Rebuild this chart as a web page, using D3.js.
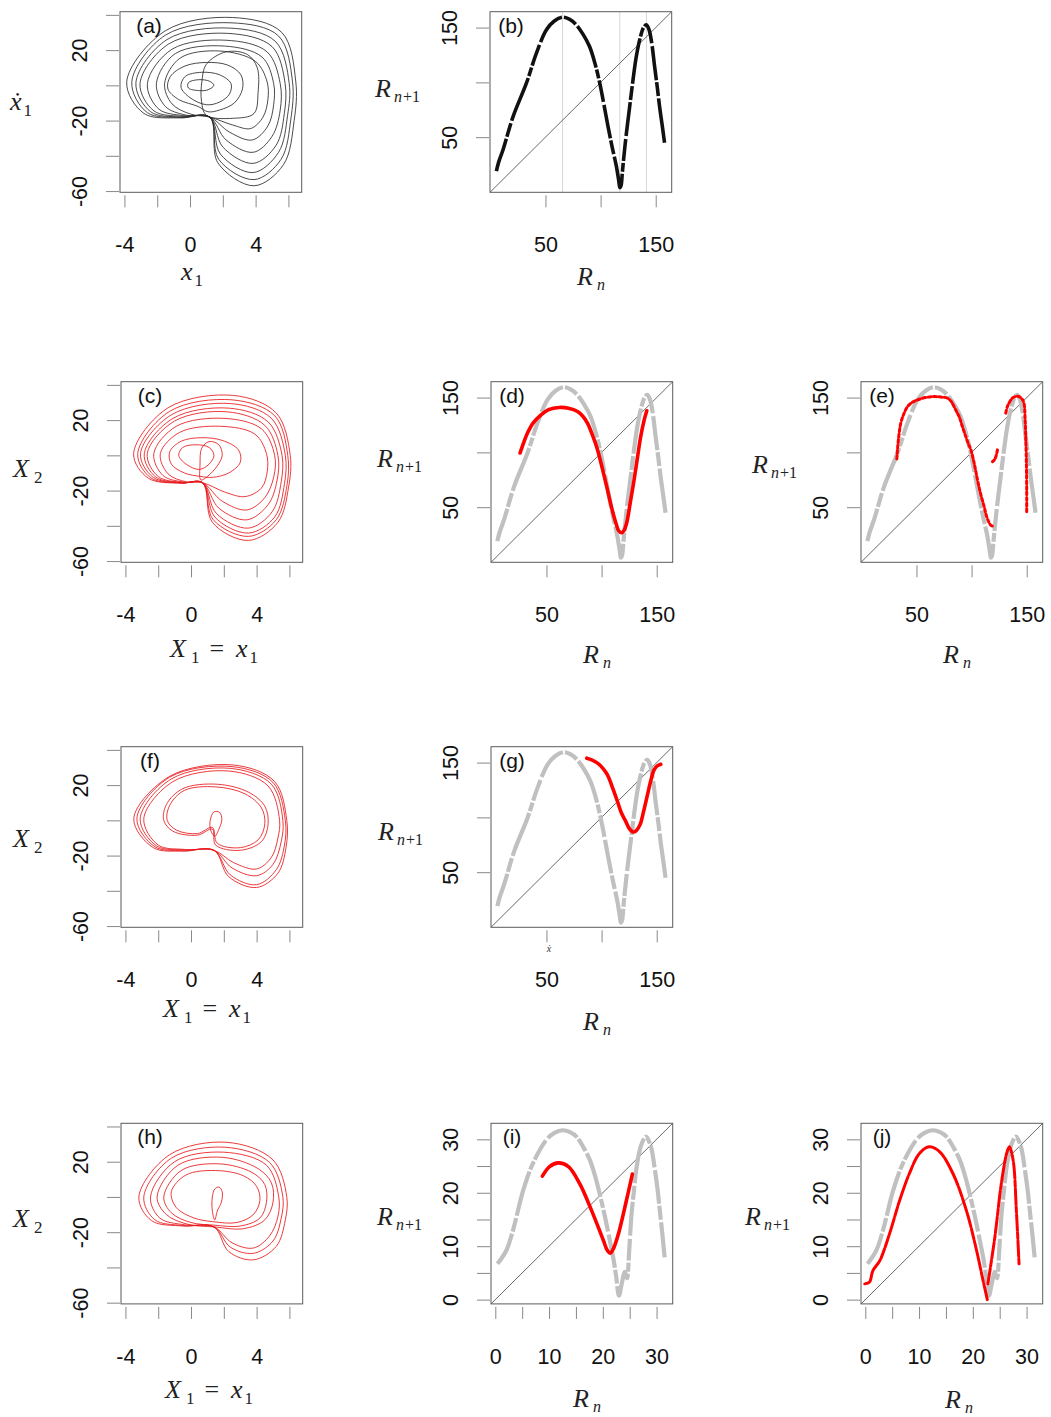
<!DOCTYPE html>
<html><head><meta charset="utf-8">
<script src="https://cdn.jsdelivr.net/npm/d3@7"></script>
<style>
body{margin:0;background:#fff;}
svg{display:block;background:#fff;}
</style></head><body>
<svg id="chart" width="1051" height="1417"></svg>
<script>
// ---------------- DATA ----------------
const phaseXTicks = [-4, -2, 0, 2, 4, 6];
const phaseXLabels = [-4, 0, 4];
const phaseYTicks = [-60, -40, -20, 0, 20, 40];
const phaseYLabels = [-60, -20, 20];
const mapTicks = [50, 100, 150];
const mapLabels = [50, 150];
const smallTicks = [0, 5, 10, 15, 20, 25, 30];
const smallLabels = [0, 10, 20, 30];
const panelLetters = ['(a)','(b)','(c)','(d)','(e)','(f)','(g)','(h)','(i)','(j)'];

// phase-portrait loops (x1, x1dot / X2)
const loopsA = [
 [[1.2,-18],[1.7,-44],[3.9,-57],[5.7,-45],[6.35,-20],[6.45,2],[5.6,30],[2.6,38.5],[-1.5,31],[-3.86,2],[-2.8,-16],[-0.6,-18.5]],
 [[1.2,-18],[1.75,-42],[3.9,-53.5],[5.55,-42],[6.15,-19],[6.25,2],[5.4,28],[2.5,35.5],[-1.5,28.5],[-3.55,2],[-2.6,-15.5],[-0.6,-18.2]],
 [[1.2,-18],[1.85,-39],[3.85,-49.5],[5.4,-38],[5.95,-17],[6.05,1],[5.2,25],[2.4,32.5],[-1.4,26],[-3.3,1.5],[-2.4,-15],[-0.6,-18]],
 [[1.2,-18],[2.0,-35],[3.85,-44.3],[5.25,-34],[5.75,-16],[5.8,1],[5.0,22],[2.3,29.5],[-1.3,23.5],[-3.05,1],[-2.2,-14.5],[-0.5,-17.6]],
 [[1.2,-18],[2.2,-31],[3.85,-38],[5.0,-29],[5.5,-14],[5.5,1],[4.7,19],[2.2,25.6],[-1.1,20.5],[-2.6,1],[-1.9,-13.5],[-0.4,-17.2]],
 [[1.2,-18],[2.4,-26.5],[3.8,-31],[4.75,-23],[5.1,-11],[5.1,1],[4.4,16],[2.1,22.3],[-0.9,18],[-2.05,1],[-1.5,-12],[-0.3,-16.8]],
 [[1.2,-18],[2.6,-22.5],[3.7,-24.5],[4.45,-18],[4.75,-8],[4.7,2],[4.0,13.5],[1.8,19.5],[-0.6,15.5],[-1.55,1],[-1.1,-10.5],[0.0,-16.2]],
 [[1.0,-17],[0.7,-9],[0.72,2],[1.0,12],[2.2,19],[3.5,17.5],[4.1,10],[4.15,-4],[3.9,-16],[2.6,-18.7]],
 [[1.1,-15],[0.5,-12],[-0.7,-8],[-1.35,-2],[-1.2,5],[-0.3,11],[1.0,13],[2.3,11.5],[3.1,6],[3.2,-2],[2.7,-10],[1.8,-14]],
 [[1.0,-11],[0.0,-7],[-0.55,-1],[-0.3,5],[0.7,7.4],[1.8,6],[2.5,1],[2.4,-5],[1.8,-9.5]],
 [[0.6,-3],[-0.1,-1.5],[-0.1,1.5],[0.5,3.2],[1.2,2.3],[1.45,0],[1.1,-2.5]]
];
const loopsC = [
 [[0.7,-15.5],[1.3,-38],[3.5,-48.3],[5.3,-38],[5.95,-18],[6.05,0],[5.2,24],[2.6,34],[-1.4,27],[-3.5,1],[-2.6,-13],[-0.6,-15.8]],
 [[0.7,-15.5],[1.35,-36.5],[3.5,-46],[5.2,-36.5],[5.85,-17],[5.9,0],[5.1,22.5],[2.5,31.5],[-1.3,25],[-3.25,1],[-2.45,-12.8],[-0.6,-15.7]],
 [[0.7,-15.5],[1.45,-35],[3.5,-44.1],[5.1,-35],[5.7,-16],[5.75,0],[4.9,21],[2.4,29.4],[-1.2,23],[-3.08,1],[-2.3,-12.5],[-0.6,-15.6]],
 [[0.7,-15.5],[1.55,-33],[3.5,-41.3],[4.95,-32],[5.5,-15],[5.55,0],[4.7,19],[2.3,26.8],[-1.1,21],[-2.85,1],[-2.15,-12.3],[-0.5,-15.5]],
 [[0.7,-15.5],[1.7,-30],[3.4,-36.6],[4.7,-28],[5.25,-14],[5.3,0],[4.5,17],[2.2,24.7],[-1.0,19.5],[-2.67,1],[-2.0,-12],[-0.5,-15.4]],
 [[0.7,-15.5],[1.9,-26],[3.4,-31],[4.5,-24],[5.05,-12],[5.1,0],[4.3,15],[2.0,21],[-0.9,16.5],[-2.27,1],[-1.7,-11.5],[-0.4,-15.2]],
 [[0.7,-15.5],[2.1,-21],[3.3,-23.4],[4.3,-18.5],[4.65,-9],[4.6,1],[3.9,12],[1.8,16.5],[-0.7,13],[-1.87,1],[-1.4,-10.5],[-0.3,-15]],
 [[0.6,-12],[-0.4,-10],[-1.2,-5],[-1.3,2],[-0.6,8],[0.6,10],[1.9,8.5],[2.9,3],[3.0,-4],[2.3,-10],[1.3,-12.5]],
 [[0.5,-8],[-0.3,-5],[-0.75,0],[-0.5,4.5],[0.3,6],[1.1,4.5],[1.4,0],[1.1,-5]],
 [[0.6,-14],[0.55,-5],[0.65,4],[1.1,7.8],[1.7,6],[1.9,0],[1.6,-6],[1.0,-12]]
];
const loopsF = [
 [[1.4,-17],[2.3,-32],[4.0,-38.1],[5.3,-30],[5.8,-15],[5.84,0],[5.1,22],[2.6,31.4],[-1.3,25],[-3.49,1],[-2.3,-15.5],[-0.5,-17.5]],
 [[1.4,-17],[2.4,-31],[4.0,-36.5],[5.2,-28],[5.7,-14],[5.75,0],[5.0,21.5],[2.5,30.5],[-1.3,24.5],[-3.3,1],[-2.2,-15],[-0.5,-17.2]],
 [[1.4,-17],[2.5,-27],[4.0,-31.4],[5.0,-25],[5.5,-12],[5.6,0],[4.9,20.5],[2.4,29.5],[-1.2,23.5],[-3.1,1],[-2.1,-14.5],[-0.4,-16.8]],
 [[1.4,-17],[2.6,-24],[4.0,-27.6],[4.9,-21],[5.3,-10],[5.4,0],[4.7,19.5],[2.3,28],[-1.1,22],[-2.88,1],[-2.0,-14],[-0.4,-16.5]],
 [[1.3,-5],[1.5,-14],[3.0,-17],[4.3,-12],[4.7,-2],[4.5,8],[3.5,16],[1.6,20.5],[-0.5,18],[-1.5,9],[-1.66,0],[-1.1,-6.2],[0.4,-8.4]],
 [[1.3,-4],[1.6,-13],[3.0,-15.5],[4.1,-11],[4.5,-2],[4.3,7],[3.3,15],[1.5,19],[-0.4,17],[-1.3,8.5],[-1.45,0],[-0.9,-5.5],[0.4,-7.5]],
 [[1.2,-5.7],[1.17,0],[1.4,4.8],[1.75,4.5],[1.88,0.5],[1.7,-5],[1.45,-9]]
];
const loopsH = [
 [[1.4,-17],[2.3,-31],[3.8,-35.7],[5.2,-28],[5.75,-13],[5.84,0],[5.0,21],[2.2,31],[-1.3,24],[-3.18,0],[-2.4,-13.5],[-0.5,-16.5]],
 [[1.4,-17],[2.4,-28.5],[3.8,-32],[5.0,-25],[5.5,-12],[5.6,0],[4.8,19.5],[2.1,28.2],[-1.2,22],[-2.88,0],[-2.2,-13],[-0.5,-16.2]],
 [[1.4,-17],[2.5,-26],[3.8,-29],[4.8,-22],[5.3,-11],[5.35,0],[4.6,18],[2.0,25.4],[-1.0,20],[-2.47,0],[-1.9,-12],[-0.4,-15.8]],
 [[1.4,-17],[3.2,-18],[4.5,-13],[5.0,-3],[4.9,8],[4.1,16],[1.9,22.5],[-0.8,18],[-2.07,0],[-1.5,-10],[-0.2,-15.5]],
 [[1.4,-16],[3.0,-16.5],[4.2,-12],[4.6,-3],[4.5,7],[3.7,14],[1.7,18.8],[-0.6,15],[-1.66,0],[-1.2,-9],[0.0,-14.5]],
 [[1.3,-14],[2.8,-14.5],[3.8,-10],[4.2,-2],[4.0,6],[3.2,12],[1.5,15],[-0.3,12.5],[-1.2,3],[-0.9,-6],[0.2,-12]],
 [[1.3,-8],[1.3,0],[1.45,4.5],[1.7,5.6],[1.9,3],[1.85,-3],[1.6,-8],[1.45,-13]]
];

// return maps (Rn, Rn+1)
const greyMap = [[5.5,19],[7.5,27],[11.6,38.8],[20.7,69],[32.8,99.5],[41.8,126.7],[50.9,148],[58,156],[65.4,159.5],[72,157.5],[78,152.5],[84,144],[90,132.7],[95,117],[99.2,99.5],[103,80],[106.7,60],[110.5,41],[114.3,23.6],[116.5,10],[117.5,4],[118.6,6],[119.6,16],[120.5,26],[123,50],[126.4,78],[129.5,103],[132.4,123.6],[136,141],[139,150],[141.5,152.5],[144,148],[146.5,135],[149,114.5],[151.5,95],[153.5,78],[156,60],[158,45]];
const criticalLinesB = [65.5, 117.4, 141.6];
const redD = [[26.1,99.5],[32.8,117.6],[38,127],[44.9,134],[52,139],[61.5,141],[70,140.3],[78.2,137.3],[83,133],[87.2,126.7],[92,115],[96.3,102.5],[101,84],[105.3,66],[109,50],[112.9,35.8],[115.5,28.5],[118,26.7],[120.5,29],[122.8,35.8],[126,54],[129.5,75],[132.5,95],[135.5,114.5],[138.5,129],[141,138]];
const redE1 = [[32.2,94],[32.8,102.5],[34,115],[35.8,126.7],[38.5,135],[41.9,141.8],[46,145.5],[50.9,147.9],[58,150],[66,150.9],[72,150.5],[78.2,149.5],[81.5,146.5],[84.1,141.8],[86.5,137],[88.7,132.7],[91.5,124],[94.7,114.5],[97,108],[99.3,102.5],[102.3,90.4],[105.3,75.2],[108,63],[111.3,50.9],[113.5,42],[115.9,35.8],[118,33],[119.9,32.7]];
const redE2 = [[118.9,91.5],[120.5,93],[122,96],[123.5,102.5]];
const redE3 = [[131,135.8],[132.5,141.8],[134.5,146],[137,149.5],[140,151],[143,150.9],[145.5,149],[147.5,144.9],[148.5,132],[149.1,114.5],[149.5,100],[149.8,84.3],[150,65],[150,44.9]];
const redG = [[86.6,154],[91,152.5],[96.3,149.5],[101,145],[105.3,138.8],[110,127],[114.4,114.5],[118,104],[121.9,96.4],[125,90],[128.6,86.7],[131.5,88],[134.9,93.4],[138,105],[141.6,120.6],[144.5,133],[147.6,143.4],[150.5,147],[153.7,148.5]];
const greySmall = [[0.4,6.7],[2.05,9.2],[3.3,13],[5.2,20.5],[7.0,25.5],[9.5,29.9],[11,31.2],[12.5,31.7],[14,31.3],[15.1,30.5],[16.4,28.5],[17.6,26.1],[18.6,23],[19.4,19.9],[20.4,15.5],[21.3,11.1],[22,7.5],[22.5,4.2],[23,0.75],[23.5,2.9],[24.1,5.2],[24.5,4],[24.9,9],[25.3,15.5],[25.8,20.5],[26.3,24.9],[27.1,28.8],[28,30.5],[28.9,28.8],[29.7,24.2],[30.2,20.5],[30.6,16.7],[31.1,12],[31.5,7.9]];
const redI = [[8.75,23.1],[10.1,24.9],[11.7,25.6],[13.6,24.9],[15.7,21.7],[17.9,16.7],[20.1,11.1],[20.8,9.3],[21.4,8.7],[22.0,9.6],[22.9,12.3],[24.4,18.6],[25.5,23.5]];
const redJ1 = [[-0.1,2.95],[0.8,3.3],[1.4,5.4],[2.7,7.3],[4.5,12.3],[6.4,18.6],[8.2,23.6],[10.1,27.4],[11.9,28.6],[13.8,27.7],[16.3,23.6],[18.8,16.7],[20.7,9.2],[21.9,3.6],[22.7,0]];
const redJ2 = [[22.8,2.9],[24.1,11.7],[25.3,21.7],[26.3,27.4],[26.8,28.6],[27.5,26.1],[28.1,16.7],[28.6,6.7]];

// ---------------- LAYOUT ----------------
const W = 181.7, H = 180.6;
const phaseDomX = [-4.27, 6.81], phaseDomY = [-60.7, 41.8];
const mapDom = [-0.3, 164.5], smallDom = [-0.8, 33];
const BLACK = '#111', GREY = '#c0c0c0', RED = '#ff0000';
const SERIF = '"Liberation Serif","Times New Roman",serif';
const SANS = '"Liberation Sans",Arial,sans-serif';

const tXd1 = [{t:'ẋ',s:26,i:1},{t:'1',s:17,dx:2,dy:6}];
const tx1 = [{t:'x',s:26,i:1},{t:'1',s:17,dx:2,dy:6}];
const tX2 = [{t:'X',s:26,i:1},{t:'2',s:17,dx:5,dy:6}];
const tX1 = [{t:'X',s:26,i:1},{t:'1',s:17,dx:5,dy:6},{t:'=',s:26,dx:10,dy:-6},{t:'x',s:26,i:1,dx:12},{t:'1',s:17,dx:2,dy:6}];
const tR1 = [{t:'R',s:26,i:1},{t:'n',s:16,i:1,dx:3,dy:5},{t:'+1',s:16,dx:1}];
const tRn = [{t:'R',s:26,i:1},{t:'n',s:16,i:1,dx:4,dy:5}];

const panels = [
 {n:0, kind:'phase', left:120, top:11.7, loops:loopsA, color:'#2b2b2b', lx:29, yt:[tXd1,10,110], xt:[tx1,181,280]},
 {n:1, kind:'map', left:490, top:11.7, dom:mapDom, ref:greyMap, refColor:BLACK, vlines:criticalLinesB, reds:[], lx:21, yt:[tR1,375,97], xt:[tRn,577,285]},
 {n:2, kind:'phase', left:121, top:381.7, loops:loopsC, color:'#e8191c', lx:29, yt:[tX2,13,477], xt:[tX1,170,657]},
 {n:3, kind:'map', left:491, top:381.7, dom:mapDom, ref:greyMap, refColor:GREY, reds:[{d:redD}], lx:21, yt:[tR1,377,467], xt:[tRn,583,663]},
 {n:4, kind:'map', left:861, top:381.7, dom:mapDom, ref:greyMap, refColor:GREY, reds:[{d:redE1,dash:'3,2.5'},{d:redE2,dash:'3,2'},{d:redE3,dash:'3,2.5'}], lx:21, yt:[tR1,752,473], xt:[tRn,943,663]},
 {n:5, kind:'phase', left:121, top:746.7, loops:loopsF, color:'#e8191c', lx:29, yt:[tX2,13,847], xt:[tX1,163,1017]},
 {n:6, kind:'map', left:491, top:746.7, dom:mapDom, ref:greyMap, refColor:GREY, reds:[{d:redG}], lx:21, yt:[tR1,378,840], xt:[tRn,583,1030]},
 {n:7, kind:'phase', left:121, top:1123.3, loops:loopsH, color:'#e8191c', lx:29, yt:[tX2,13,1227], xt:[tX1,165,1398]},
 {n:8, kind:'small', left:491, top:1123.3, dom:smallDom, ref:greySmall, refColor:GREY, reds:[{d:redI}], lx:21, yt:[tR1,377,1225], xt:[tRn,573,1407]},
 {n:9, kind:'small', left:861, top:1123.3, dom:smallDom, ref:greySmall, refColor:GREY, reds:[{d:redJ1,dash:'30,2,10,2'},{d:redJ2,dash:'16,2,6,2'}], lx:21, yt:[tR1,745,1225], xt:[tRn,945,1408]}
];

const svg = d3.select('#chart');

function title(spec) {
  const [parts, x0, base] = spec;
  const t = svg.append('text').attr('x', x0).attr('y', base)
    .attr('font-family', SERIF).attr('fill', '#222');
  parts.forEach(p => t.append('tspan').text(p.t).attr('font-size', p.s)
    .attr('font-style', p.i ? 'italic' : 'normal')
    .attr('dx', p.dx || 0).attr('dy', p.dy || 0));
}

function drawPanel(p) {
  const g = svg.append('g').attr('transform', `translate(${p.left},${p.top})`);
  let xd, yd, xt, xl, yt, yl;
  if (p.kind === 'phase') { xd = phaseDomX; yd = phaseDomY; xt = phaseXTicks; xl = phaseXLabels; yt = phaseYTicks; yl = phaseYLabels; }
  else if (p.kind === 'map') { xd = p.dom; yd = p.dom; xt = mapTicks; xl = mapLabels; yt = mapTicks; yl = mapLabels; }
  else { xd = p.dom; yd = p.dom; xt = smallTicks; xl = smallLabels; yt = smallTicks; yl = smallLabels; }
  const x = d3.scaleLinear().domain(xd).range([0, W]);
  const y = d3.scaleLinear().domain(yd).range([H, 0]);
  const cid = 'clip' + p.n;
  g.append('clipPath').attr('id', cid).append('rect').attr('width', W).attr('height', H);
  const plot = g.append('g').attr('clip-path', `url(#${cid})`);

  if (p.kind === 'phase') {
    const line = d3.line().x(d => x(d[0])).y(d => y(d[1])).curve(d3.curveCatmullRomClosed.alpha(0.5));
    p.loops.forEach(l => plot.append('path').attr('d', line(l)).attr('fill', 'none')
      .attr('stroke', p.color).attr('stroke-width', 1).attr('stroke-opacity', 0.85));
  } else {
    (p.vlines || []).forEach(v => plot.append('line').attr('x1', x(v)).attr('x2', x(v))
      .attr('y1', 0).attr('y2', H).attr('stroke', '#d8d8d8').attr('stroke-width', 1));
    plot.append('line').attr('x1', x(xd[0])).attr('y1', y(yd[0])).attr('x2', x(xd[1])).attr('y2', y(yd[1]))
      .attr('stroke', '#444').attr('stroke-width', 0.8);
    const line = d3.line().x(d => x(d[0])).y(d => y(d[1])).curve(d3.curveCatmullRom.alpha(0.5));
    plot.append('path').attr('d', line(p.ref)).attr('fill', 'none')
      .attr('stroke', p.refColor).attr('stroke-width', p.refColor === BLACK ? 3.6 : 4.2)
      .attr('stroke-dasharray', '34,2,14,2.5,46,2,9,2,22,3').attr('stroke-linecap', 'butt');
    p.reds.forEach(r => plot.append('path').attr('d', line(r.d)).attr('fill', 'none')
      .attr('stroke', RED).attr('stroke-width', r.dash ? 3 : 3.6)
      .attr('stroke-dasharray', r.dash || null).attr('stroke-linecap', 'round'));
  }

  g.append('rect').attr('width', W).attr('height', H).attr('fill', 'none').attr('stroke', '#5a5a5a').attr('stroke-width', 1);

  const fmt = labs => d => labs.includes(d) ? String(d) : '';
  const ax = g.append('g').attr('transform', `translate(0,${H + 3})`)
    .call(d3.axisBottom(x).tickValues(xt).tickSize(12).tickFormat(fmt(xl)));
  ax.select('.domain').remove();
  ax.selectAll('line').attr('stroke', '#888');
  ax.selectAll('text').attr('y', 56.7).attr('dy', 0).attr('fill', '#111')
    .attr('font-size', 21.5).attr('font-family', SANS);

  const ay = g.append('g').attr('transform', 'translate(-1,0)')
    .call(d3.axisLeft(y).tickValues(yt).tickSize(13).tickFormat(fmt(yl)));
  ay.select('.domain').remove();
  ay.selectAll('line').attr('stroke', '#888');
  ay.selectAll('text').attr('x', null).attr('y', null).attr('dy', 0)
    .attr('transform', 'translate(-32,0) rotate(-90)').attr('text-anchor', 'middle')
    .attr('fill', '#111').attr('font-size', 21.5).attr('font-family', SANS);

  g.append('text').attr('x', p.lx).attr('y', 21).attr('text-anchor', 'middle')
    .attr('font-family', SANS).attr('font-size', 21).attr('fill', '#111').text(panelLetters[p.n]);

  title(p.yt);
  title(p.xt);
}

panels.forEach(drawPanel);

// stray small glyph under panel (g)
svg.append('text').attr('x', 549).attr('y', 952).attr('text-anchor', 'middle')
  .attr('font-family', SERIF).attr('font-style', 'italic').attr('font-size', 10).attr('fill', '#333').text('ẋ');
</script></body></html>
